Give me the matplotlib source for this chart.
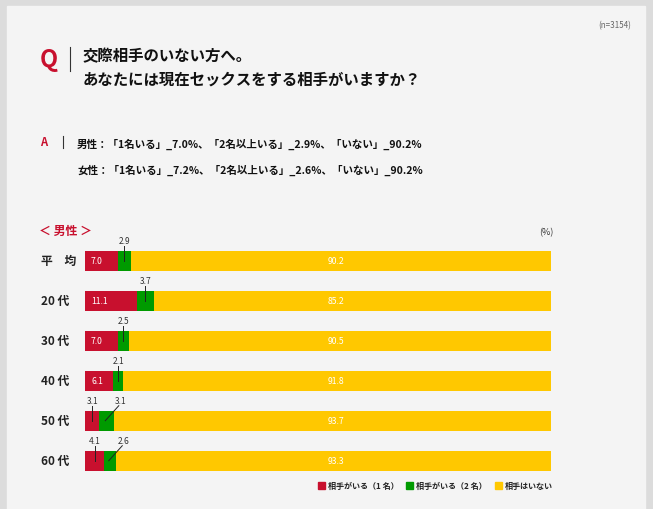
import matplotlib.pyplot as plt
from matplotlib.patches import Rectangle
from matplotlib.lines import Line2D

plt.rcParams['font.family'] = ['Noto Sans CJK JP', 'DejaVu Sans']

# data
groups = ['平　均', '20 代', '30 代', '40 代', '50 代', '60 代']
one_partner = [7.0, 11.1, 7.0, 6.1, 3.1, 4.1]
two_partners = [2.9, 3.7, 2.5, 2.1, 3.1, 2.6]
no_partner = [90.2, 85.2, 90.5, 91.8, 93.7, 93.3]
legend_labels = ['相手がいる（1 名）', '相手がいる（2 名）', '相手はいない']

RED = '#c8102e'
GREEN = '#009a00'
YELLOW = '#ffc800'

W, H = 653, 510
fig = plt.figure(figsize=(W / 100, H / 100), dpi=100, facecolor='#dcdcdc')


def px(x, y):
    return x / W, 1 - y / H


# light panel
fig.patches.append(Rectangle(px(7, 510), (645 - 7) / W, (510 - 7) / H,
                             transform=fig.transFigure, color='#f4f4f4', zorder=-10))

# header
fig.text(*px(631, 26), '(n=3154)', ha='right', va='center', fontsize=5.8, color='#666666')
fig.text(*px(49, 60), 'Q', ha='center', va='center', fontsize=17, weight='bold', color=RED)
fig.lines.append(Line2D([70 / W, 70 / W], [1 - 48 / H, 1 - 72 / H],
                        transform=fig.transFigure, color='#333333', lw=0.8))
fig.text(*px(83, 56), '交際相手のいない方へ。', ha='left', va='center',
         fontsize=11.1, weight='bold', color='#111111')
fig.text(*px(83, 80), 'あなたには現在セックスをする相手がいますか？', ha='left', va='center',
         fontsize=11.1, weight='bold', color='#111111')

fig.text(*px(44, 142), 'A', ha='center', va='center', fontsize=8, weight='bold', color=RED)
fig.lines.append(Line2D([63 / W, 63 / W], [1 - 137 / H, 1 - 149 / H],
                        transform=fig.transFigure, color='#333333', lw=0.8))
fig.text(*px(77, 144), '男性：「1名いる」_7.0%、「2名以上いる」_2.9%、「いない」_90.2%',
         ha='left', va='center', fontsize=7.55, weight='bold', color='#111111')
fig.text(*px(77, 170), '女性：「1名いる」_7.2%、「2名以上いる」_2.6%、「いない」_90.2%',
         ha='left', va='center', fontsize=7.55, weight='bold', color='#111111')

fig.text(*px(39, 231), '＜ 男性 ＞', ha='left', va='center', fontsize=8.6, weight='bold', color=RED)
fig.text(*px(553, 233), '(%)', ha='right', va='center', fontsize=6.5, color='#333333')

# bars
ax = fig.add_axes([85 / W, 1 - 481.7 / H, 466 / W, 240 / H])
ax.set_facecolor('none')
y = list(range(len(groups)))
left2 = [a for a in one_partner]
left3 = [a + b for a, b in zip(one_partner, two_partners)]
ax.barh(y, one_partner, height=0.5, color=RED)
ax.barh(y, two_partners, left=left2, height=0.5, color=GREEN)
ax.barh(y, no_partner, left=left3, height=0.5, color=YELLOW)
ax.set_xlim(0, 100)
ax.set_ylim(5.5, -0.5)
ax.axis('off')

for i, g in enumerate(groups):
    fig.text(*px(41, 261.7 + 40 * i), g, ha='left', va='center', fontsize=8.5,
             weight='bold', color='#222222')

lab = dict(fontsize=6, color='#333333', ha='center', va='center')
for i in range(len(groups)):
    r, g, n = one_partner[i], two_partners[i], no_partner[i]
    # red segment
    red_above = r < 5
    if red_above:
        ax.plot([r / 2, r / 2], [i - 0.375, i], color='#222222', lw=0.7)
        ax.text(r / 2, i - 0.5, f'{r:.1f}', **lab)
    else:
        ax.text(1.3, i, f'{r:.1f}', fontsize=6.2, color='white', ha='left', va='center')
    # green segment
    gc = r + g / 2
    if red_above:
        ax.plot([gc - 0.3, gc + 2.6], [i, i - 0.375], color='#222222', lw=0.7)
        ax.text(gc + 2.9, i - 0.5, f'{g:.1f}', **lab)
    else:
        ax.plot([gc, gc], [i - 0.375, i], color='#222222', lw=0.7)
        ax.text(gc, i - 0.5, f'{g:.1f}', **lab)
    # yellow segment
    ax.text(52, i, f'{n:.1f}', fontsize=6.2, color='white', ha='left', va='center')

# legend
colors = [RED, GREEN, YELLOW]
xs = [318, 406, 495]
for c, x0, t in zip(colors, xs, legend_labels):
    fig.patches.append(Rectangle(px(x0, 489.5), 7 / W, 7 / H,
                                 transform=fig.transFigure, color=c))
    fig.text(*px(x0 + 10, 486), t, ha='left', va='center', fontsize=5.8,
             weight='bold', color='#222222')

fig.savefig('out.png', dpi=100, facecolor=fig.get_facecolor())
